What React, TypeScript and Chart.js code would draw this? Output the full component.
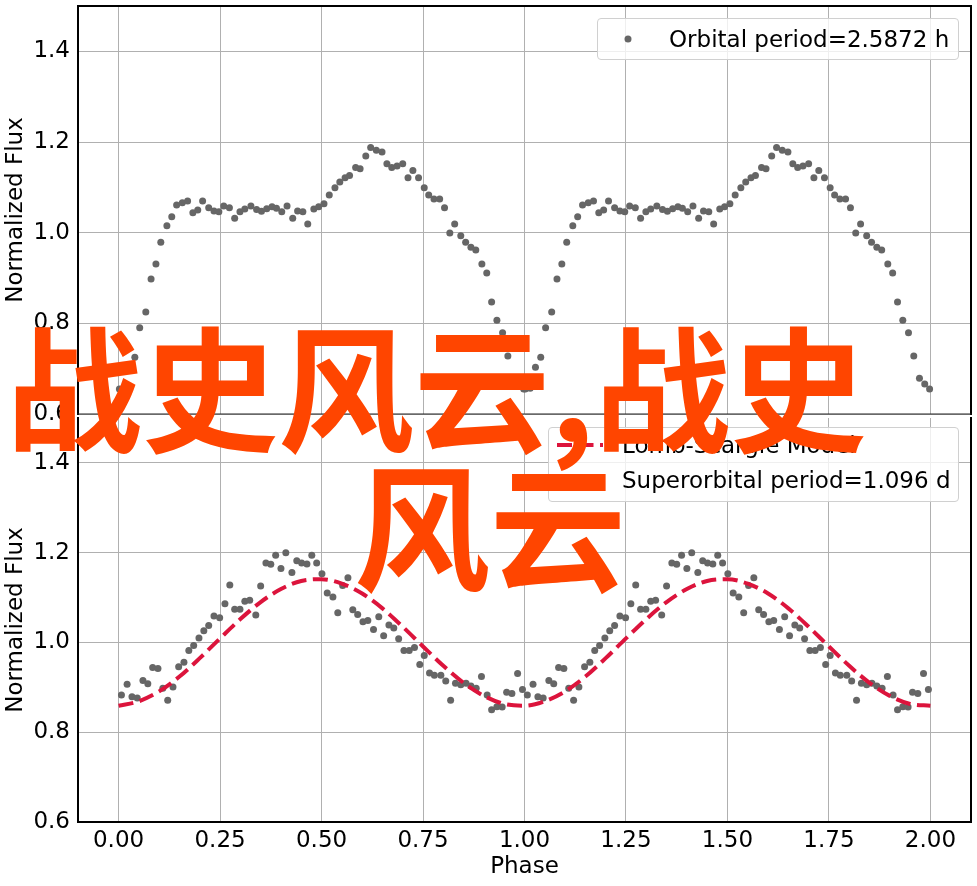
import React, { useEffect, useRef } from "react";
import { Chart, registerables } from "chart.js";

Chart.register(...registerables);

// ---------- data ----------
const orbitalPhase = [
  0.002, 0.014, 0.027, 0.040, 0.052, 0.067, 0.080, 0.092, 0.104, 0.119,
  0.131, 0.143, 0.157, 0.170, 0.183, 0.195, 0.207, 0.222, 0.235, 0.247,
  0.259, 0.273, 0.286, 0.299, 0.311, 0.326, 0.340, 0.352, 0.365, 0.378,
  0.389, 0.402, 0.415, 0.429, 0.441, 0.454, 0.466, 0.481, 0.493, 0.506,
  0.519, 0.533, 0.545, 0.558, 0.569, 0.584, 0.595, 0.609, 0.621, 0.635,
  0.649, 0.661, 0.673, 0.686, 0.700, 0.713, 0.725, 0.739, 0.753, 0.764,
  0.777, 0.791, 0.803, 0.816, 0.828, 0.843, 0.855, 0.868, 0.880, 0.895,
  0.907, 0.919, 0.932, 0.946, 0.959, 0.973, 0.986, 0.998,
];
const orbitalFlux = [
  0.655, 0.657, 0.703, 0.725, 0.790, 0.825, 0.898, 0.931, 0.979, 1.015,
  1.035, 1.061, 1.066, 1.070, 1.044, 1.050, 1.070, 1.055, 1.048, 1.046,
  1.059, 1.055, 1.032, 1.046, 1.052, 1.059, 1.051, 1.047, 1.053, 1.057,
  1.054, 1.046, 1.059, 1.032, 1.048, 1.046, 1.019, 1.052, 1.057, 1.064,
  1.083, 1.099, 1.112, 1.121, 1.126, 1.144, 1.141, 1.169, 1.188, 1.182,
  1.178, 1.152, 1.144, 1.147, 1.152, 1.121, 1.137, 1.121, 1.099, 1.083,
  1.074, 1.074, 1.055, 0.999, 1.019, 0.993, 0.979, 0.968, 0.962, 0.931,
  0.911, 0.847, 0.807, 0.779, 0.728, 0.679, 0.666, 0.655,
];

const superPhase = [
  0.007, 0.021, 0.033, 0.046, 0.060, 0.072, 0.084, 0.097, 0.109, 0.121,
  0.134, 0.148, 0.161, 0.173, 0.185, 0.198, 0.210, 0.222, 0.235, 0.249,
  0.262, 0.274, 0.286, 0.299, 0.311, 0.323, 0.338, 0.350, 0.363, 0.375,
  0.387, 0.400, 0.412, 0.427, 0.439, 0.451, 0.464, 0.476, 0.488, 0.501,
  0.514, 0.528, 0.540, 0.552, 0.565, 0.577, 0.589, 0.602, 0.614, 0.628,
  0.641, 0.653, 0.666, 0.678, 0.690, 0.703, 0.716, 0.729, 0.742, 0.753,
  0.766, 0.778, 0.794, 0.806, 0.818, 0.830, 0.843, 0.856, 0.868, 0.881,
  0.894, 0.908, 0.919, 0.932, 0.945, 0.956, 0.969, 0.983, 0.995,
];
const superFlux = [
  0.883, 0.907, 0.879, 0.876, 0.915, 0.908, 0.944, 0.942, 0.898, 0.871,
  0.901, 0.946, 0.956, 0.982, 0.993, 1.010, 1.026, 1.038, 1.059, 1.055,
  1.086, 1.128, 1.074, 1.074, 1.092, 1.094, 1.061, 1.126, 1.177, 1.174,
  1.194, 1.165, 1.200, 1.156, 1.182, 1.177, 1.175, 1.194, 1.177, 1.153,
  1.110, 1.101, 1.066, 1.127, 1.144, 1.073, 1.062, 1.046, 1.049, 1.029,
  1.057, 1.015, 1.039, 1.032, 1.008, 0.982, 0.982, 0.989, 0.951, 0.971,
  0.932, 0.927, 0.927, 0.914, 0.871, 0.909, 0.906, 0.909, 0.903, 0.898,
  0.924, 0.883, 0.850, 0.857, 0.856, 0.889, 0.886, 0.931, 0.895,
];

const modelPhase = [
  0.00, 0.05, 0.10, 0.15, 0.20, 0.25, 0.30, 0.35, 0.40, 0.45, 0.50,
  0.55, 0.60, 0.65, 0.70, 0.75, 0.80, 0.85, 0.90, 0.95, 1.00,
];
const modelFlux = [
  0.859, 0.869, 0.891, 0.924, 0.965, 1.009, 1.052, 1.090, 1.119, 1.137, 1.141,
  1.131, 1.109, 1.076, 1.035, 0.991, 0.948, 0.910, 0.881, 0.863, 0.859,
];

const xTicks = [0, 0.25, 0.5, 0.75, 1.0, 1.25, 1.5, 1.75, 2.0];
const yTicks = [0.6, 0.8, 1.0, 1.2, 1.4];
const xRange = [-0.1, 2.1];
const yRange = [0.6, 1.5];

const orbitalLabel = "Orbital period=2.5872 h";
const modelLabel = "Lomb-Scargle Model";
const superLabel = "Superorbital period=1.096 d";
const xTitle = "Phase";
const yTitle = "Normalized Flux";
const watermarkLine1 = "战史风云,战史";
const watermarkLine2 = "风云";

// ---------- helpers ----------
const FONT = "DejaVu Sans";
const FONT_SIZE = 23;
const POINT_COLOR = "#666666";
const MODEL_COLOR = "#DC143C";
const GRID_COLOR = "#b0b0b0";

function twoCycles(ph: number[], fl: number[]) {
  return [
    ...ph.map((p, i) => ({ x: p, y: fl[i] })),
    ...ph.map((p, i) => ({ x: p + 1, y: fl[i] })),
  ];
}
function twoCyclesLine(ph: number[], fl: number[]) {
  return [
    ...ph.map((p, i) => ({ x: p, y: fl[i] })),
    ...ph.slice(1).map((p, i) => ({ x: p + 1, y: fl[i + 1] })),
  ];
}

const spinesPlugin = {
  id: "spines",
  afterDraw(chart: any, _args: any, opts: any) {
    const { left, right, top, bottom } = chart.chartArea;
    const ctx = chart.ctx;
    ctx.save();
    const line = (x1: number, y1: number, x2: number, y2: number, w: number, c: string) => {
      ctx.beginPath();
      ctx.lineWidth = w;
      ctx.strokeStyle = c;
      ctx.lineCap = "square";
      ctx.moveTo(x1, y1);
      ctx.lineTo(x2, y2);
      ctx.stroke();
    };
    const s = opts.sides || {};
    if (s.left) line(left, top, left, bottom, s.left[0], s.left[1]);
    if (s.right) line(right, top, right, bottom, s.right[0], s.right[1]);
    if (s.top) line(left, top, right, top, s.top[0], s.top[1]);
    if (s.bottom) line(left, bottom, right, bottom, s.bottom[0], s.bottom[1]);
    ctx.restore();
  },
};

function zeroPad(s: any) {
  s.paddingTop = 0;
  s.paddingBottom = 0;
  s.paddingLeft = 0;
  s.paddingRight = 0;
}

function yScale() {
  return {
    type: "linear",
    min: yRange[0],
    max: yRange[1],
    afterBuildTicks: (s: any) => {
      s.ticks = yTicks.map((v) => ({ value: v }));
    },
    afterFit: (s: any) => {
      s.width = 78;
      zeroPad(s);
    },
    ticks: {
      font: { family: FONT, size: FONT_SIZE },
      color: "#000",
      padding: 8,
      callback: (v: any) => Number(v).toFixed(1),
    },
    grid: { color: GRID_COLOR, lineWidth: 1, drawTicks: false },
    border: { display: false },
    title: {
      display: true,
      text: yTitle,
      font: { family: FONT, size: FONT_SIZE },
      color: "#000",
      padding: { top: 2, bottom: 0 },
    },
  };
}

function xScale(showLabels: boolean) {
  return {
    type: "linear",
    min: xRange[0],
    max: xRange[1],
    afterBuildTicks: (s: any) => {
      s.ticks = xTicks.map((v) => ({ value: v }));
    },
    afterFit: (s: any) => {
      s.height = showLabels ? 64 : 0;
      zeroPad(s);
    },
    ticks: {
      display: showLabels,
      font: { family: FONT, size: FONT_SIZE },
      color: "#000",
      padding: 5,
      maxRotation: 0,
      autoSkip: false,
      callback: (v: any) => Number(v).toFixed(2),
    },
    grid: { color: GRID_COLOR, lineWidth: 1, drawTicks: false },
    border: { display: false },
    title: {
      display: showLabels,
      text: xTitle,
      font: { family: FONT, size: FONT_SIZE },
      color: "#000",
      padding: { top: 0, bottom: 5 },
    },
  };
}

function TopChart() {
  const ref = useRef<HTMLCanvasElement | null>(null);
  useEffect(() => {
    if (!ref.current) return;
    const chart = new Chart(ref.current, {
      type: "scatter",
      data: {
        datasets: [
          {
            label: orbitalLabel,
            data: twoCycles(orbitalPhase, orbitalFlux),
            backgroundColor: POINT_COLOR,
            borderWidth: 0,
            pointRadius: 3.5,
          },
        ],
      },
      options: {
        responsive: false,
        animation: false,
        events: [],
        layout: { padding: { top: 6, right: 6, bottom: 26, left: 0 } },
        plugins: {
          legend: { display: false },
          tooltip: { enabled: false },
          spines: {
            sides: {
              left: [2, "#000"],
              right: [2, "#000"],
              top: [2, "#000"],
              bottom: [1, "#222"],
            },
          },
        } as any,
        scales: { x: xScale(false), y: yScale() } as any,
      },
      plugins: [spinesPlugin],
    });
    return () => chart.destroy();
  }, []);
  return (
    <canvas
      ref={ref}
      width={977}
      height={440}
      style={{ position: "absolute", left: 0, top: 0, width: 977, height: 440 }}
    />
  );
}

function BottomChart() {
  const ref = useRef<HTMLCanvasElement | null>(null);
  useEffect(() => {
    if (!ref.current) return;
    const chart = new Chart(ref.current, {
      type: "scatter",
      data: {
        datasets: [
          {
            type: "line",
            label: modelLabel,
            data: twoCyclesLine(modelPhase, modelFlux),
            borderColor: MODEL_COLOR,
            borderWidth: 4,
            borderDash: [15, 6.5],
            borderCapStyle: "butt",
            pointRadius: 0,
            fill: false,
            tension: 0.4,
            cubicInterpolationMode: "monotone",
            order: 0,
          } as any,
          {
            label: superLabel,
            data: twoCycles(superPhase, superFlux),
            backgroundColor: POINT_COLOR,
            borderWidth: 0,
            pointRadius: 3.5,
            order: 1,
          },
        ],
      },
      options: {
        responsive: false,
        animation: false,
        events: [],
        layout: { padding: { top: 0, right: 6, bottom: 0, left: 0 } },
        plugins: {
          legend: { display: false },
          tooltip: { enabled: false },
          spines: {
            sides: {
              left: [2, "#000"],
              right: [2, "#000"],
              bottom: [2, "#000"],
            },
          },
        } as any,
        scales: { x: xScale(true), y: yScale() } as any,
      },
      plugins: [spinesPlugin],
    });
    return () => chart.destroy();
  }, []);
  return (
    <canvas
      ref={ref}
      width={977}
      height={472}
      style={{ position: "absolute", left: 0, top: 414, width: 977, height: 472 }}
    />
  );
}

const legendBox: React.CSSProperties = {
  position: "absolute",
  background: "rgba(255,255,255,0.8)",
  border: "1px solid #d0d0d0",
  borderRadius: 4,
  boxSizing: "border-box",
};
const legendText: React.CSSProperties = {
  position: "absolute",
  fontFamily: FONT,
  fontSize: FONT_SIZE,
  lineHeight: "26px",
  color: "#000",
  whiteSpace: "nowrap",
};
const watermarkStyle: React.CSSProperties = {
  position: "absolute",
  fontFamily: "'Noto Sans CJK SC'",
  fontWeight: 700,
  fontSize: 136,
  lineHeight: "136px",
  color: "#FF4500",
  whiteSpace: "nowrap",
};

export default function App() {
  return (
    <div style={{ position: "absolute", left: 0, top: 0, width: 977, height: 886, background: "#fff", overflow: "hidden" }}>
      <TopChart />
      <BottomChart />

      {/* top legend */}
      <div style={{ ...legendBox, left: 597, top: 18, width: 362, height: 42 }} />
      <svg style={{ position: "absolute", left: 0, top: 0 }} width={977} height={886}>
        <circle cx={628} cy={39} r={3.5} fill={POINT_COLOR} />
      </svg>
      <div style={{ ...legendText, left: 669, top: 26 }}>{orbitalLabel}</div>

      {/* bottom legend */}
      <div style={{ ...legendBox, left: 548, top: 427, width: 411, height: 75 }} />
      <svg style={{ position: "absolute", left: 0, top: 0 }} width={977} height={886}>
        <line x1={557} y1={445} x2={603} y2={445} stroke={MODEL_COLOR} strokeWidth={4} strokeDasharray="15 6.5" />
        <circle cx={580} cy={480} r={3.5} fill={POINT_COLOR} />
      </svg>
      <div style={{ ...legendText, left: 622, top: 432 }}>{modelLabel}</div>
      <div style={{ ...legendText, left: 622, top: 467 }}>{superLabel}</div>

      {/* watermark */}
      <div style={{ ...watermarkStyle, left: 6, top: 315 }}>{watermarkLine1}</div>
      <div style={{ ...watermarkStyle, left: 354, top: 454 }}>{watermarkLine2}</div>
    </div>
  );
}
